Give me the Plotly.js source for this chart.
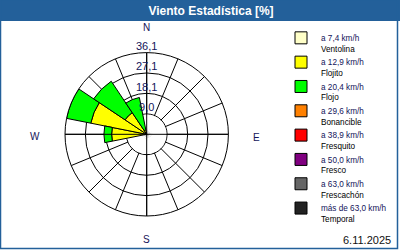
<!DOCTYPE html>
<html>
<head>
<meta charset="utf-8">
<script src="https://cdn.plot.ly/plotly-3.0.1.min.js"></script>
<style>html,body{margin:0;padding:0;background:#fff;}#chart{width:400px;height:250px;}</style>
</head>
<body>
<div id="chart"></div>
<script>
// Wind directions (compass) and their angles in degrees
const directions = ['N','NNE','NE','ENE','E','ESE','SE','SSE','S','SSW','SW','WSW','W','WNW','NW','NNW'];
const angles = [0,22.5,45,67.5,90,112.5,135,157.5,180,202.5,225,247.5,270,292.5,315,337.5];

// Speed classes (legend labels)
const classRanges = ['a 7,4 km/h','a 12,9 km/h','a 20,4 km/h','a 29,6 km/h','a 38,9 km/h','a 50,0 km/h','a 63,0 km/h','más de 63,0 km/h'];
const classNames = ['Ventolina','Flojito','Flojo','Bonancible','Fresquito','Fresco','Frescachón','Temporal'];

// Percent of time per direction for each speed class
const ventolina  = [0,0,0,0,0,0,0,0,0,0,0,0,0,0,0,0];
const flojito    = [0,0,0,0,0,0,0,0,0,0,0,0,15.5,25.2,11.5,2.0];
const flojo      = [0,0,0,0,0,0,0,0,0,0,0,0,3.4,10.9,16.7,14.6];
const bonancible = [0,0,0,0,0,0,0,0,0,0,0,0,0,0,0,0];
const fresquito  = [0,0,0,0,0,0,0,0,0,0,0,0,0,0,0,0];
const fresco     = [0,0,0,0,0,0,0,0,0,0,0,0,0,0,0,0];
const frescachon = [0,0,0,0,0,0,0,0,0,0,0,0,0,0,0,0];
const temporal   = [0,0,0,0,0,0,0,0,0,0,0,0,0,0,0,0];

// Radial rings (tick values) and labels
const ringValues = [9.0, 18.1, 27.1, 36.1];
const ringLabels = ['9,0','18,1','27,1','36,1'];
const compassLabels = ['N','E','S','W'];
const dateLabel = '6.11.2025';
const titleText = 'Viento Estadística [%]';

const series = [ventolina, flojito, flojo, bonancible, fresquito, fresco, frescachon, temporal];
const colors = ['#FFFFC8','#FFFF00','#00FF00','#FF8000','#FF0000','#800080','#666666','#222222'];

const navy = '#14145a';
const traces = [];

// white inner calm disk covering spokes
traces.push({
  type:'barpolar', r: angles.map(()=>ringValues[0]*0.97), theta: angles, width: 22.5,
  base: 0, marker:{color:'#ffffff', line:{width:0}}, showlegend:false, hoverinfo:'skip'
});

let cum = angles.map(()=>0);
series.forEach((vals,i)=>{
  let idx = vals.map((v,k)=>k).filter(k=>vals[k]>0);
  let r = idx.map(k=>vals[k]), base = idx.map(k=>cum[k]), th = idx.map(k=>angles[k]);
  if (idx.length === 0) { r = [0]; base = [0]; th = [angles[0]]; } // keep empty class in legend
  traces.push({
    type:'barpolar',
    name: classRanges[i] + '<br><span style="color:#000">' + classNames[i] + '</span>',
    r: r, base: base, theta: th,
    width: 22.5,
    showlegend: true,
    legendgroup: 'g'+i,
    marker:{color: colors[i], line:{color:'#000', width:1}}
  });
  cum = cum.map((c,k)=>c+vals[k]);
});

const rmax = ringValues[ringValues.length-1];
// N-S and W-E axis lines
traces.push({type:'scatterpolar', mode:'lines', r:[rmax,0,rmax], theta:[0,0,180], line:{color:'#000',width:1}, showlegend:false, hoverinfo:'skip'});
traces.push({type:'scatterpolar', mode:'lines', r:[rmax,0,rmax], theta:[90,90,270], line:{color:'#000',width:1}, showlegend:false, hoverinfo:'skip'});
// ring labels
traces.push({type:'scatterpolar', mode:'text', r: ringValues, theta: ringValues.map(()=>0), text: ringLabels,
  textposition:'top center', cliponaxis:false, textfont:{family:'Liberation Sans', size:11, color:navy}, showlegend:false, hoverinfo:'skip'});

// compass label placement (pixels in the 400x250 frame)
const compassPos = [[146.5,28],[256,137],[146.5,239],[34.5,136]];
const compassAnn = compassLabels.map((t,i)=>({
  text:t, xref:'paper', yref:'paper', x: compassPos[i][0]/400, y: 1-compassPos[i][1]/250,
  xanchor:'center', yanchor:'middle', showarrow:false,
  font:{family:'Liberation Sans', size:10, color:navy}
}));

const layout = {
  width:400, height:250,
  margin:{l:0,r:0,t:0,b:0},
  paper_bgcolor:'#fff',
  showlegend:true,
  barmode:'overlay',
  title:{text: titleText, x: 211/400, xanchor:'center', y: 1-10.5/250, yanchor:'middle', yref:'paper',
    font:{family:'Liberation Sans', size:12, color:'#fff', weight:'bold'}},
  polar:{
    domain:{x:[65/400, 228.4/400], y:[1-216/250, 1-52.6/250]},
    bgcolor:'rgba(0,0,0,0)',
    radialaxis:{range:[0,rmax], tickvals: ringValues, showticklabels:false, ticks:'', showline:false,
      gridcolor:'#000', gridwidth:1},
    angularaxis:{rotation:90, direction:'clockwise', tickvals: angles, showticklabels:false,
      ticks:'', showline:true, linecolor:'#000', linewidth:1,
      gridcolor:'#000', gridwidth:1}
  },
  legend:{x:281/400, xanchor:'left', y:1-26/250, yanchor:'top', bgcolor:'rgba(0,0,0,0)',
    font:{family:'Liberation Sans', size:8.2, color:navy}, valign:'top', tracegroupgap:0, traceorder:'normal'},
  shapes:[
    {type:'rect', xref:'paper', yref:'paper', x0:0, x1:1, y0:1-21/250, y1:1, fillcolor:'#23609a', line:{width:0}, layer:'below'},
    {type:'rect', xref:'paper', yref:'paper', x0:0.5/400, x1:397.5/400, y0:1.5/250, y1:1, fillcolor:'rgba(0,0,0,0)', line:{color:'#23609a', width:1.5}, layer:'above'}
  ],
  annotations: compassAnn.concat([
    {text: dateLabel, xref:'paper', yref:'paper', x:393/400, xanchor:'right', y:1-240/250, yanchor:'middle', showarrow:false,
      font:{family:'Liberation Sans', size:11, color:'#111'}}
  ])
};

Plotly.newPlot('chart', traces, layout, {staticPlot:true, displayModeBar:false});
</script>
</body>
</html>
